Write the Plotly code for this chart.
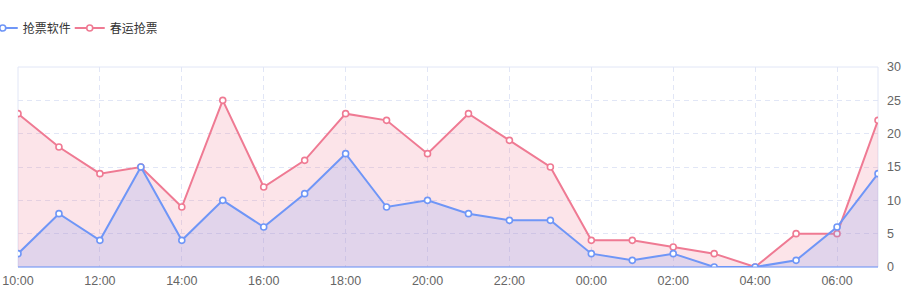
import plotly.graph_objects as go

hours = ["10:00", "11:00", "12:00", "13:00", "14:00", "15:00", "16:00", "17:00",
         "18:00", "19:00", "20:00", "21:00", "22:00", "23:00", "00:00", "01:00",
         "02:00", "03:00", "04:00", "05:00", "06:00", "07:00"]
software = [2, 8, 4, 15, 4, 10, 6, 11, 17, 9, 10, 8, 7, 7, 2, 1, 2, 0, 0, 1, 6, 14]
spring = [23, 18, 14, 15, 9, 25, 12, 16, 23, 22, 17, 23, 19, 15, 4, 4, 3, 2, 0, 5, 5, 22]
series_names = ["抢票软件", "春运抢票"]
tick_labels = hours[::2]

BLUE = "#6F96F7"
PINK = "#EF7A93"
GRID = "#E1E6F6"


def marker(c):
    return dict(symbol="circle", size=6, color="white", line=dict(color=c, width=1.6))


fig = go.Figure()
# data traces (pink drawn below blue)
fig.add_trace(go.Scatter(
    x=hours, y=spring, name=series_names[1], mode="lines+markers",
    line=dict(color=PINK, width=2), marker=marker(PINK),
    fill="tozeroy", fillcolor="rgba(240,122,147,0.2)", showlegend=False,
))
fig.add_trace(go.Scatter(
    x=hours, y=software, name=series_names[0], mode="lines+markers",
    line=dict(color=BLUE, width=2), marker=marker(BLUE),
    fill="tozeroy", fillcolor="rgba(118,150,245,0.2)", showlegend=False,
))
# legend entries (line + circle, without fill)
for nm, c in zip(series_names, [BLUE, PINK]):
    fig.add_trace(go.Scatter(x=[None], y=[None], name=nm, mode="lines+markers",
                             line=dict(color=c, width=2), marker=marker(c)))

fig.update_layout(
    width=915, height=300,
    margin=dict(l=18, r=37, t=67, b=33, autoexpand=False),
    paper_bgcolor="white", plot_bgcolor="white",
    font=dict(family="Noto Sans CJK SC, sans-serif", size=12, color="#333"),
    showlegend=True,
    legend=dict(orientation="h", x=-0.041, xanchor="left", y=1.195, yanchor="middle",
                font=dict(size=12, color="#333"), bgcolor="rgba(0,0,0,0)",
                itemwidth=30, traceorder="normal",
                entrywidth=42, entrywidthmode="pixels"),
    xaxis=dict(type="category", range=[0, len(hours) - 1],
               tickmode="array", tickvals=tick_labels, ticktext=tick_labels,
               showgrid=True, gridcolor=GRID, griddash="5px,4px", gridwidth=1,
               showline=False,
               ticks="", ticklabelstandoff=4,
               tickfont=dict(color="#666", size=12.5,
                             family="Liberation Sans, Arial, sans-serif"),
               zeroline=False, fixedrange=True),
    yaxis=dict(side="right", range=[0, 30], tickvals=[0, 5, 10, 15, 20, 25, 30],
               showgrid=True, gridcolor=GRID, griddash="5px,4px", gridwidth=1,
               showline=False, zeroline=False, ticks="",
               tickfont=dict(color="#666", size=12.5,
                             family="Liberation Sans, Arial, sans-serif"),
               ticklabelstandoff=8, fixedrange=True),
    shapes=[dict(type="rect", xref="paper", yref="paper", x0=0, x1=1, y0=0, y1=1,
                 line=dict(color=GRID, width=1), layer="below"),
            dict(type="line", xref="paper", yref="paper", x0=0, x1=1, y0=0, y1=0,
                 line=dict(color=BLUE, width=1.2), layer="above")],
)

fig.write_html("out.html")
